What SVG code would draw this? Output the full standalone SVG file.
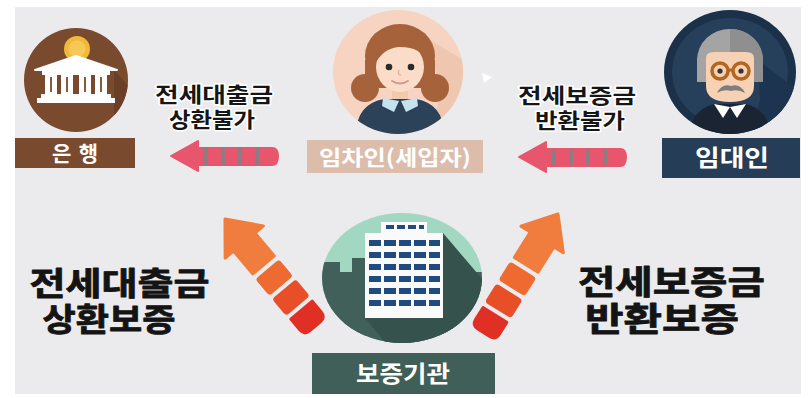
<svg xmlns="http://www.w3.org/2000/svg" width="809" height="398" viewBox="0 0 809 398">
  <defs>
    <style>
      .lbl { font-family: "Noto Sans CJK KR", "Noto Sans", sans-serif; font-weight: 700; fill: #ffffff; text-anchor: middle; }
      .cap { font-family: "Liberation Sans", "Noto Sans CJK KR", sans-serif; font-weight: 700; fill: #161616; text-anchor: middle; stroke: #ffffff; stroke-width: 3; paint-order: stroke; stroke-linejoin: round; }
      .big { font-family: "Liberation Sans", "Noto Sans CJK KR", sans-serif; font-weight: 700; fill: #141414; text-anchor: middle; stroke: #141414; stroke-width: 0.8; stroke-linejoin: round; }
      .pink { fill: #e8566d; stroke: #e8566d; stroke-width: 2; stroke-linejoin: round; }
      .stripe { fill: #8f7c83; }
    </style>
    <clipPath id="clipBank"><circle cx="76" cy="80" r="52"/></clipPath>
    <clipPath id="clipTenant"><ellipse cx="398" cy="72" rx="65" ry="62"/></clipPath>
    <clipPath id="clipLandlord"><ellipse cx="730" cy="72" rx="66" ry="62"/></clipPath>
    <clipPath id="clipAgency"><ellipse cx="402" cy="278" rx="80" ry="65"/></clipPath>
    <!-- pink "refund impossible" arrow pointing left, tip at origin -->
    <g id="pinkArrow">
      <path class="pink" d="M0,0 L27,-15 L27,-8 L34,-8 L34,9 L27,9 L27,15 Z"/>
      <path class="pink" d="M34,-8 L101,-8 Q107,-8 107,0 Q107,9 101,9 L34,9 Z"/>
      <rect class="stripe" x="32" y="-8" width="5" height="17"/>
      <rect class="stripe" x="50" y="-8" width="4" height="17"/>
      <rect class="stripe" x="67" y="-8" width="4" height="17"/>
      <rect class="stripe" x="84" y="-8" width="4" height="17"/>
    </g>
    <!-- dashed orange guarantee arrow pointing up, tip at origin -->
    <g id="upArrow" stroke-linejoin="round" stroke-width="3">
      <path d="M0,0 L25,30 L14,30 L14,60 L-14,60 L-14,30 L-25,30 Z" fill="#f07d3d" stroke="#f07d3d"/>
      <rect x="-14" y="67" width="28" height="19" rx="2" fill="#ee6a30" stroke="#ee6a30"/>
      <rect x="-14" y="93" width="28" height="19" rx="2" fill="#e84f29" stroke="#e84f29"/>
      <path d="M-14,119 L14,119 L14,133 Q14,140 7,140 L-7,140 Q-14,140 -14,133 Z" fill="#e02f25" stroke="#e02f25"/>
    </g>
  </defs>

  <!-- backdrop -->
  <rect x="0" y="0" width="809" height="398" fill="#ffffff"/>
  <rect x="15" y="7" width="786" height="387" fill="#ebebed"/>

  <!-- connectors -->
  <g id="connectors">
    <use href="#pinkArrow" x="171" y="156"/>
    <use href="#pinkArrow" x="519" y="157"/>
    <use href="#upArrow" transform="translate(225,219) rotate(-40)"/>
    <use href="#upArrow" transform="translate(558,214) rotate(32)"/>
  </g>

  <!-- bank -->
  <g id="bank">
    <circle cx="76" cy="80" r="52" fill="#7a4a2e"/>
    <g clip-path="url(#clipBank)">
      <path d="M114,70 L150,110 L150,160 L114,160 L114,103 Z" fill="#6b3f26"/>
    </g>
    <circle cx="77" cy="49" r="13" fill="#f2b83a"/>
    <circle cx="77" cy="49" r="8.5" fill="#f6c957"/>
    <path d="M35,70 L76,56 L117,70 Z" fill="#ffffff" stroke="#ffffff" stroke-width="2" stroke-linejoin="round"/>
    <rect x="42" y="70" width="68" height="5" fill="#ffffff"/>
    <rect x="45" y="75" width="12" height="19" fill="#ffffff"/>
    <rect x="61" y="75" width="12" height="19" fill="#ffffff"/>
    <rect x="79" y="75" width="12" height="19" fill="#ffffff"/>
    <rect x="95" y="75" width="12" height="19" fill="#ffffff"/>
    <g fill="#8a5a3c">
      <rect x="50" y="77" width="2" height="15"/>
      <rect x="66" y="77" width="2" height="15"/>
      <rect x="84" y="77" width="2" height="15"/>
      <rect x="100" y="77" width="2" height="15"/>
    </g>
    <rect x="41" y="94" width="70" height="4" fill="#ffffff"/>
    <rect x="37" y="98" width="78" height="5" fill="#ffffff"/>
    <rect x="15" y="138" width="120" height="30" fill="#7a4a2e"/>
    <text class="lbl" x="75" y="161" font-size="21" textLength="46" lengthAdjust="spacing">은행</text>
  </g>

  <!-- tenant -->
  <g id="tenant">
    <ellipse cx="398" cy="72" rx="65" ry="62" fill="#f6d4c1"/>
    <g clip-path="url(#clipTenant)">
      <path d="M430,40 L480,70 L480,140 L430,140 L440,95 Z" fill="#efc6b0"/>
      <ellipse cx="400" cy="56" rx="35" ry="32" fill="#a6623a"/>
      <circle cx="365" cy="88" r="14" fill="#a6623a"/>
      <circle cx="435" cy="88" r="14" fill="#a6623a"/>
      <rect x="365" y="60" width="70" height="28" fill="#a6623a"/>
      <rect x="392" y="84" width="16" height="16" fill="#f3c9ae"/>
      <ellipse cx="400" cy="67" rx="24" ry="25" fill="#fadcc9"/>
      <path d="M374,66 Q372,34 400,31 Q430,31 428,62 Q420,46 398,47 Q382,49 374,66 Z" fill="#a6623a"/>
      <circle cx="389" cy="67" r="3.3" fill="#2b2b2b"/>
      <circle cx="411" cy="67" r="3.3" fill="#2b2b2b"/>
      <path d="M399,70 Q397,75 401,75" fill="none" stroke="#e6b39a" stroke-width="1.5"/>
      <path d="M392,81 Q400,86 408,81" fill="none" stroke="#d9958a" stroke-width="2" stroke-linecap="round"/>
      <path d="M356,135 Q356,104 384,99 L416,99 Q444,104 444,135 Z" fill="#2c4258"/>
      <path d="M383,98 L399,101 L394,112 L382,106 Z" fill="#c3e4ee"/>
      <path d="M417,98 L401,101 L406,112 L418,106 Z" fill="#c3e4ee"/>
    </g>
    <path d="M482,73 L492,77 L484,83 Z" fill="#ffffff"/>
    <rect x="307" y="140" width="176" height="33" fill="#dcbcab"/>
    <text class="lbl" x="395" y="165" font-size="21" textLength="152" lengthAdjust="spacingAndGlyphs">임차인(세입자)</text>
  </g>

  <!-- landlord -->
  <g id="landlord">
    <ellipse cx="730" cy="72" rx="66" ry="62" fill="#1b314a"/>
    <ellipse cx="730" cy="72" rx="58" ry="54" fill="#263f5b"/>
    <g clip-path="url(#clipLandlord)">
      <path d="M758,60 L810,100 L810,140 L750,140 L760,100 Z" fill="#1d3450"/>
      <ellipse cx="730" cy="60" rx="33" ry="31" fill="#a4a4a4"/>
      <path d="M730,29 A33,31 0 0 1 763,60 L763,82 L730,82 Z" fill="#8f8f8f"/>
      <rect x="697" y="58" width="66" height="24" fill="#a4a4a4"/>
      <path d="M763,58 L763,82 L730,82 L730,58 Z" fill="#8f8f8f"/>
      <path d="M706,58 Q706,52 714,52 L746,52 Q754,52 754,58 L754,86 Q754,102 730,102 Q706,102 706,86 Z" fill="#f6d1b3"/>
      <circle cx="720" cy="71" r="8" fill="#f6d1b3" stroke="#b3661f" stroke-width="3.5"/>
      <circle cx="741" cy="71" r="8" fill="#f6d1b3" stroke="#b3661f" stroke-width="3.5"/>
      <line x1="728" y1="70" x2="733" y2="70" stroke="#b3661f" stroke-width="3"/>
      <circle cx="720" cy="71" r="2.6" fill="#333333"/>
      <circle cx="741" cy="71" r="2.6" fill="#333333"/>
      <path d="M717,93 Q722,83 731,86 Q740,83 745,93 Q738,89 731,91 Q723,89 717,93 Z" fill="#7e7e7e"/>
      <path d="M688,140 Q690,110 714,104 L746,104 Q770,110 772,140 Z" fill="#1b2433"/>
      <path d="M714,104 L730,107 L723,118 Z" fill="#ffffff"/>
      <path d="M746,104 L730,107 L737,118 Z" fill="#ffffff"/>
    </g>
    <rect x="662" y="138" width="138" height="40" fill="#253d56"/>
    <text class="lbl" x="732" y="166" font-size="23" textLength="74" lengthAdjust="spacingAndGlyphs">임대인</text>
  </g>

  <!-- guarantee agency -->
  <g id="agency">
    <ellipse cx="402" cy="278" rx="80" ry="65" fill="#a2d7c2"/>
    <g clip-path="url(#clipAgency)">
      <path d="M318,350 L318,262 L340,262 L340,272 L352,272 L352,258 L366,258 L366,350 Z" fill="#41605a"/>
      <path d="M440,350 L440,262 L462,262 L462,272 L490,272 L490,350 Z" fill="#41605a"/>
      <path d="M318,300 L490,300 L490,350 L318,350 Z" fill="#41605a"/>
      <path d="M443,233 L500,300 L500,350 L443,350 Z" fill="#35524c"/>
      <path d="M365,318 L443,318 L490,360 L400,360 Z" fill="#35524c"/>
      <rect x="381" y="222" width="46" height="11" fill="#fafafa"/>
      <rect x="365" y="233" width="78" height="85" fill="#fafafa"/>
      <g fill="#204b80">
        <rect x="386" y="225" width="8" height="4"/><rect x="397" y="225" width="8" height="4"/><rect x="408" y="225" width="8" height="4"/><rect x="419" y="225" width="5" height="4"/>
        <rect x="369" y="240" width="12" height="6"/><rect x="384" y="240" width="12" height="6"/><rect x="399" y="240" width="12" height="6"/><rect x="414" y="240" width="12" height="6"/><rect x="429" y="240" width="11" height="6"/>
        <rect x="369" y="252" width="12" height="6"/><rect x="384" y="252" width="12" height="6"/><rect x="399" y="252" width="12" height="6"/><rect x="414" y="252" width="12" height="6"/><rect x="429" y="252" width="11" height="6"/>
        <rect x="369" y="264" width="12" height="6"/><rect x="384" y="264" width="12" height="6"/><rect x="399" y="264" width="12" height="6"/><rect x="414" y="264" width="12" height="6"/><rect x="429" y="264" width="11" height="6"/>
        <rect x="369" y="276" width="12" height="6"/><rect x="384" y="276" width="12" height="6"/><rect x="399" y="276" width="12" height="6"/><rect x="414" y="276" width="12" height="6"/><rect x="429" y="276" width="11" height="6"/>
        <rect x="369" y="288" width="12" height="6"/><rect x="384" y="288" width="12" height="6"/><rect x="399" y="288" width="12" height="6"/><rect x="414" y="288" width="12" height="6"/><rect x="429" y="288" width="11" height="6"/>
        <rect x="369" y="300" width="12" height="6"/><rect x="384" y="300" width="12" height="6"/><rect x="399" y="300" width="12" height="6"/><rect x="414" y="300" width="12" height="6"/><rect x="429" y="300" width="11" height="6"/>
      </g>
    </g>
    <rect x="312" y="353" width="183" height="41" fill="#3f5f58"/>
    <text class="lbl" x="403" y="382" font-size="23" textLength="94" lengthAdjust="spacingAndGlyphs">보증기관</text>
  </g>

  <!-- captions: each two-line caption is one text block -->
  <g id="captions">
    <text class="cap" font-size="21">
      <tspan x="217" y="102" textLength="118" lengthAdjust="spacingAndGlyphs">전세대출금</tspan>
      <tspan x="212" y="127" textLength="86" lengthAdjust="spacingAndGlyphs">상환불가</tspan>
    </text>
    <text class="cap" font-size="21">
      <tspan x="580" y="103" textLength="118" lengthAdjust="spacingAndGlyphs">전세보증금</tspan>
      <tspan x="580" y="128" textLength="90" lengthAdjust="spacingAndGlyphs">반환불가</tspan>
    </text>
    <text class="big" font-size="32">
      <tspan x="124" y="295" textLength="180" lengthAdjust="spacingAndGlyphs">전세대출금</tspan>
      <tspan x="109" y="331" textLength="133" lengthAdjust="spacingAndGlyphs">상환보증</tspan>
    </text>
    <text class="big" font-size="33">
      <tspan x="676" y="294" textLength="187" lengthAdjust="spacingAndGlyphs">전세보증금</tspan>
      <tspan x="662" y="331" textLength="154" lengthAdjust="spacingAndGlyphs">반환보증</tspan>
    </text>
  </g>
</svg>
